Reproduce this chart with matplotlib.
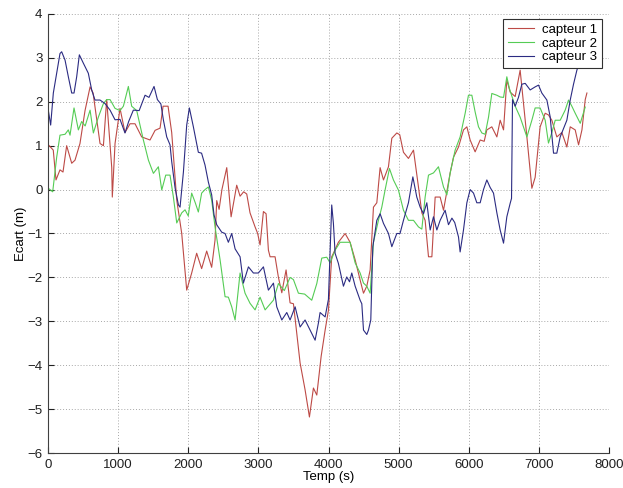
import matplotlib
matplotlib.use("Agg")
import matplotlib.pyplot as plt

plt.rcParams['font.family'] = ['Liberation Sans', 'DejaVu Sans']

# capteur 1 (red)
t1 = [5, 75, 114, 171, 214, 266, 338, 385, 456, 528, 600, 643, 742, 790, 837, 909, 917, 956,
      1027, 1098, 1170, 1241, 1336, 1455, 1527, 1598, 1641, 1712, 1764, 1836, 1907, 1978,
      2049, 2120, 2191, 2263, 2334, 2382, 2406, 2440, 2480, 2549, 2611, 2691, 2739, 2790,
      2834, 2881, 2953, 2990, 3024, 3072, 3110, 3143, 3167, 3238, 3286, 3334, 3395, 3452,
      3500, 3595, 3666, 3728, 3785, 3833, 3895, 3952, 3999, 4046, 4070, 4141, 4237, 4308,
      4380, 4451, 4499, 4546, 4594, 4641, 4689, 4736, 4784, 4855, 4903, 4974, 5016, 5069,
      5140, 5212, 5283, 5331, 5378, 5426, 5474, 5521, 5592, 5640, 5735, 5783, 5854, 5925,
      5973, 6020, 6091, 6163, 6220, 6258, 6329, 6401, 6448, 6496, 6543, 6591, 6662, 6733,
      6781, 6829, 6900, 6947, 7018, 7090, 7137, 7185, 7256, 7328, 7399, 7447, 7518, 7566,
      7614, 7661, 7685]
y1 = [1.02, 0.9, 0.22, 0.45, 0.4, 1.0, 0.6, 0.67, 1.05, 1.8, 2.34, 2.2, 1.05, 1.0, 2.05, 0.5, -0.17, 1.05,
      1.85, 1.3, 1.5, 1.5, 1.2, 1.13, 1.35, 1.4, 1.9, 1.9, 1.3, -0.24, -1.0, -2.29,
      -1.9, -1.45, -1.8, -1.4, -1.77, -1.15, -0.25, -0.45, 0.0, 0.5, -0.62, 0.1, -0.15, -0.05,
      -0.1, -0.53, -0.85, -1.0, -1.26, -0.5, -0.55, -1.38, -1.53, -1.53, -2.0, -2.35, -1.83, -2.58,
      -2.6, -3.95, -4.56, -5.18, -4.52, -4.68, -3.8, -3.2, -2.75, -1.53, -1.45, -1.2, -1.0, -1.2,
      -1.6, -2.06, -2.36, -2.2, -1.83, -0.4, -0.3, 0.5, 0.22, 0.52, 1.17, 1.29, 1.25, 0.85,
      0.71, 0.9, 0.06, -0.53, -0.7, -1.53, -1.53, -0.17, -0.17, -0.47, 0.38, 0.74, 0.97, 1.36,
      1.43, 1.13, 0.86, 1.13, 1.1, 1.36, 1.43, 1.2, 1.58, 1.36, 2.5, 2.22, 2.12, 2.72,
      1.97, 1.2, 0.03, 0.28, 1.43, 1.74, 1.7, 1.58, 1.2, 1.3, 0.97, 1.43, 1.36, 1.02,
      1.36, 2.05, 2.2]

# capteur 2 (green)
t2 = [5, 67, 124, 171, 243, 290, 314, 371, 433, 480, 530, 600, 647, 718, 790, 837, 885, 956,
      1027, 1075, 1146, 1193, 1265, 1360, 1432, 1503, 1574, 1622, 1679, 1740, 1788, 1836,
      1907, 1954, 2000, 2049, 2100, 2144, 2191, 2239, 2287, 2334, 2382, 2454, 2525, 2572,
      2620, 2668, 2739, 2810, 2881, 2953, 3024, 3096, 3214, 3286, 3370, 3452, 3500, 3571,
      3660, 3761, 3833, 3904, 3975, 4023, 4094, 4165, 4237, 4308, 4380, 4451, 4499, 4546,
      4594, 4641, 4712, 4760, 4808, 4869, 4926, 4997, 5069, 5140, 5212, 5283, 5331, 5378,
      5426, 5497, 5568, 5640, 5688, 5735, 5806, 5877, 5949, 5996, 6044, 6091, 6139, 6187,
      6234, 6282, 6329, 6400, 6448, 6496, 6543, 6580, 6662, 6733, 6829, 6900, 6947, 7018,
      7090, 7137, 7185, 7233, 7304, 7375, 7423, 7470, 7518, 7590, 7661]
y2 = [0.03, -0.05, 0.74, 1.24, 1.26, 1.36, 1.24, 1.86, 1.36, 1.55, 1.45, 1.81, 1.29, 1.65, 1.96, 2.05, 2.05, 1.85,
      1.8, 1.9, 2.35, 1.9, 1.8, 1.13, 0.67, 0.37, 0.52, -0.01, 0.33, 0.33, -0.17, -0.76,
      -0.53, -0.46, -0.6, -0.08, -0.3, -0.51, -0.08, 0.0, 0.06, -0.24, -0.85, -1.6, -2.44, -2.45,
      -2.67, -2.97, -1.9, -2.36, -2.59, -2.74, -2.45, -2.74, -2.52, -2.14, -2.3, -2.0, -2.05, -2.36,
      -2.38, -2.52, -2.14, -1.56, -1.54, -1.67, -1.38, -1.2, -1.2, -1.2, -1.67, -1.9, -2.13, -2.2,
      -2.36, -1.2, -0.7, -0.4, 0.0, 0.48, 0.22, -0.01, -0.47, -0.7, -0.7, -0.85, -0.9, -0.17,
      0.33, 0.38, 0.52, 0.06, -0.12, 0.38, 0.9, 1.2, 1.74, 2.15, 2.15, 1.77, 1.43, 1.29,
      1.26, 1.65, 2.19, 2.15, 2.11, 2.1, 2.57, 2.3, 1.9, 1.65, 1.2, 1.58, 1.86, 1.86,
      1.58, 1.06, 1.3, 1.58, 1.58, 1.81, 2.04, 1.9, 1.74, 1.51, 1.88]

# capteur 3 (blue)
t3 = [5, 38, 76, 124, 171, 195, 243, 290, 338, 371, 409, 447, 504, 575, 623, 670, 742, 813,
      885, 956, 1027, 1098, 1150, 1217, 1300, 1384, 1440, 1512, 1560, 1610, 1645, 1693,
      1740, 1764, 1812, 1860, 1883, 1931, 1978, 2016, 2073, 2144, 2190, 2239, 2287, 2334,
      2368, 2406, 2477, 2525, 2572, 2620, 2668, 2739, 2786, 2858, 2929, 3000, 3072, 3143,
      3215, 3262, 3334, 3405, 3452, 3524, 3595, 3666, 3737, 3809, 3856, 3880, 3952, 3999,
      4046, 4070, 4094, 4141, 4213, 4260, 4300, 4332, 4380, 4451, 4475, 4499, 4546, 4570,
      4603, 4632, 4689, 4736, 4784, 4855, 4903, 4974, 5020, 5069, 5140, 5203, 5259, 5307,
      5355, 5402, 5450, 5497, 5545, 5592, 5663, 5711, 5760, 5800, 5854, 5877, 5925, 5973,
      6020, 6068, 6115, 6163, 6210, 6258, 6305, 6353, 6401, 6448, 6496, 6543, 6591, 6610,
      6624, 6662, 6709, 6757, 6805, 6876, 6947, 6995, 7042, 7114, 7161, 7209, 7256, 7304,
      7399, 7447, 7494, 7542, 7590, 7640]
y3 = [1.8, 1.47, 2.2, 2.65, 3.1, 3.14, 2.95, 2.57, 2.2, 2.2, 2.57, 3.07, 2.88, 2.65, 2.27, 2.04, 2.04, 1.96,
      1.81, 1.59, 1.6, 1.29, 1.55, 1.81, 1.8, 2.15, 2.1, 2.35, 2.05, 1.95, 1.59, 1.2,
      1.02, 0.64, 0.04, -0.35, -0.4, 0.4, 1.47, 1.86, 1.43, 0.85, 0.83, 0.56, 0.17, -0.12,
      -0.58, -0.8, -0.97, -1.0, -1.2, -1.0, -1.35, -1.53, -2.13, -1.76, -1.9, -1.9, -1.76, -2.29,
      -2.13, -2.67, -2.97, -2.8, -2.97, -2.67, -3.13, -2.97, -3.2, -3.43, -3.04, -2.8, -2.9, -2.5,
      -0.35, -0.77, -1.45, -1.68, -2.2, -1.99, -2.1, -1.9, -2.2, -2.52, -2.6, -3.2, -3.3, -3.2,
      -2.97, -1.3, -0.7, -0.55, -0.77, -1.0, -1.3, -1.0, -1.0, -0.7, -0.3, 0.29, -0.17, -0.4,
      -0.55, -0.3, -0.92, -0.62, -0.92, -0.7, -0.47, -0.8, -0.65, -0.75, -1.08, -1.42, -0.92, -0.3,
      0.0, -0.08, -0.3, -0.3, 0.0, 0.22, 0.05, -0.08, -0.53, -0.92, -1.22, -0.62, -0.31, -0.2,
      2.05, 1.9, 2.1, 2.4, 2.42, 2.27, 2.34, 2.38, 2.2, 2.04, 1.66, 0.83, 0.83, 1.2,
      1.58, 2.04, 2.4, 2.72, 2.95, 3.3]

labels = ['capteur 1', 'capteur 2', 'capteur 3']
colors = ['#bd4a46', '#55cc55', '#2b2b82']

xticks = [0, 1000, 2000, 3000, 4000, 5000, 6000, 7000, 8000]
yticks = [-6, -5, -4, -3, -2, -1, 0, 1, 2, 3, 4]

fig = plt.figure(figsize=(6.23, 4.88), dpi=100)
ax = fig.add_axes([48/623, 35/488, 561/623, 439/488])

for t, y, c, lab in zip([t1, t2, t3], [y1, y2, y3], colors, labels):
    ax.plot(t, y, color=c, lw=0.8, label=lab)

ax.set_xlim(0, 8000)
ax.set_ylim(-6, 4)
ax.set_xticks(xticks)
ax.set_yticks(yticks)
ax.grid(True, color='#a8a8a8', linestyle=(0, (1, 2)), linewidth=0.7)
ax.spines['top'].set_visible(False)
ax.spines['right'].set_visible(False)
for s in ['left', 'bottom']:
    ax.spines[s].set_color('#404040')
    ax.spines[s].set_linewidth(0.8)
ax.tick_params(direction='in', length=4, labelsize=9.5, colors='#202020')
ax.tick_params(axis='x', pad=4)
ax.tick_params(axis='y', pad=4)
ax.set_xlabel('Temp (s)', fontsize=9.5, labelpad=0)
ax.set_ylabel('Ecart (m)', fontsize=9.5, labelpad=0)

leg = ax.legend(loc='upper right', bbox_to_anchor=(0.9875, 0.9886), borderaxespad=0,
                fontsize=9.5, frameon=True, fancybox=False, framealpha=1,
                handlelength=2.0, handletextpad=0.6, labelspacing=0.12, borderpad=0.35)
leg.get_frame().set_edgecolor('#303030')
leg.get_frame().set_linewidth(0.8)

fig.savefig('out.png', dpi=100)
